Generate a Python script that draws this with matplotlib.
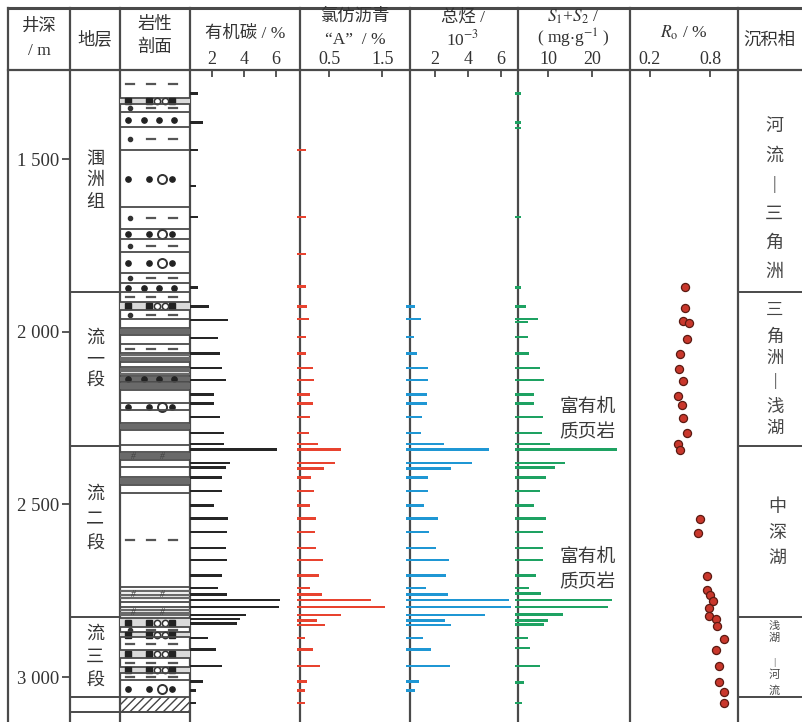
import matplotlib
matplotlib.use('Agg')
import matplotlib.pyplot as plt
import numpy as np

plt.rcParams['font.family'] = ['Liberation Serif', 'Noto Sans CJK SC']
plt.rcParams['mathtext.fontset'] = 'stix'

# ---------------- data ----------------
depth_ticks = [1500, 2000, 2500, 3000]
depth_labels = ['1 500', '2 000', '2 500', '3 000']

toc_depth = [1309, 1393, 1474, 1578, 1668, 1871, 1926, 1966, 2018, 2062, 2105, 2140, 2181, 2207,
             2247, 2293, 2325, 2340, 2380, 2392, 2421, 2461, 2502, 2540, 2580, 2626, 2661, 2705,
             2742, 2760, 2777, 2797, 2820, 2832, 2844, 2887, 2919, 2968, 3012, 3038, 3075]
toc_val = [1.1, 1.45, 1.1, 1.0, 1.1, 1.1, 1.8, 3.0, 2.4, 2.5, 2.6, 2.9, 2.1, 2.1,
           2.5, 2.75, 2.75, 6.05, 3.1, 2.9, 2.6, 2.6, 2.1, 3.0, 2.95, 2.9, 2.95, 2.6,
           2.4, 2.95, 6.25, 6.2, 4.1, 3.75, 3.55, 1.75, 2.25, 2.6, 1.45, 1.0, 1.0]

chl_depth = [1474, 1668, 1775, 1868, 1926, 1963, 2015, 2062, 2105, 2140, 2181, 2207, 2247, 2293,
             2325, 2340, 2380, 2395, 2421, 2461, 2502, 2540, 2580, 2626, 2661, 2705, 2742, 2760,
             2777, 2797, 2820, 2835, 2849, 2887, 2919, 2968, 3012, 3038, 3075]
chl_val = [0.05, 0.05, 0.05, 0.05, 0.07, 0.12, 0.05, 0.05, 0.18, 0.2, 0.14, 0.18, 0.14, 0.12,
           0.29, 0.71, 0.61, 0.39, 0.16, 0.2, 0.14, 0.25, 0.22, 0.25, 0.37, 0.31, 0.14, 0.35,
           1.28, 1.54, 0.71, 0.27, 0.42, 0.03, 0.18, 0.33, 0.07, 0.03, 0.03]

hc_depth = [1926, 1963, 2015, 2062, 2105, 2140, 2181, 2207, 2247, 2293, 2325, 2340, 2380, 2395,
            2421, 2461, 2502, 2540, 2580, 2626, 2661, 2705, 2742, 2760, 2777, 2797, 2820, 2835,
            2849, 2887, 2919, 2968, 3012, 3038]
hc_val = [0.8, 1.15, 0.73, 0.9, 1.58, 1.58, 1.52, 1.52, 1.21, 1.15, 2.55, 5.27, 4.24, 2.97,
          1.58, 1.58, 1.33, 2.18, 1.64, 2.06, 2.85, 2.67, 1.45, 2.79, 6.48, 6.6, 5.03, 2.61,
          2.97, 1.27, 1.76, 2.91, 1.03, 0.79]

s12_depth = [1309, 1393, 1410, 1668, 1871, 1926, 1963, 1972, 2015, 2062, 2105, 2140, 2181, 2207,
             2247, 2293, 2325, 2340, 2380, 2392, 2421, 2461, 2502, 2540, 2580, 2626, 2661, 2705,
             2742, 2757, 2777, 2797, 2818, 2835, 2847, 2887, 2916, 2968, 3015, 3075]
s12_val = [3.8, 3.8, 3.8, 3.8, 3.8, 5.0, 7.7, 5.5, 5.5, 5.7, 8.2, 9.1, 6.8, 6.8,
           8.9, 8.6, 10.5, 25.7, 13.9, 11.6, 9.5, 8.2, 6.8, 9.5, 8.9, 8.9, 8.9, 7.3,
           5.7, 8.4, 24.5, 23.6, 13.4, 10.0, 9.1, 5.5, 5.9, 8.2, 4.5, 4.1]

ro_depth = [1871, 1931, 1969, 1975, 2021, 2065, 2108, 2143, 2186, 2212, 2250, 2293, 2325, 2343,
            2542, 2583, 2708, 2748, 2763, 2780, 2800, 2823, 2832, 2852, 2890, 2922, 2968, 3015,
            3043, 3075]
ro_val = [0.55, 0.55, 0.53, 0.59, 0.57, 0.50, 0.49, 0.53, 0.48, 0.52, 0.53, 0.57, 0.48, 0.50,
          0.70, 0.68, 0.77, 0.77, 0.80, 0.83, 0.79, 0.79, 0.86, 0.87, 0.94, 0.86, 0.89, 0.89,
          0.94, 0.94]

formation_bounds = [1885, 2331, 2826, 3058, 3101]
formation_names = ['涠洲组', '流一段', '流二段', '流三段']
formation_char_depth = [[1500, 1563, 1626], [2018, 2081, 2144], [2471, 2543, 2615], [2877, 2944, 3012]]

facies_bounds = [1885, 2331, 2826, 3058]
facies_names = ['河流—三角洲', '三角洲—浅湖', '中深湖', '浅湖—河流']

lith_tops = [1242, 1323, 1341, 1364, 1407, 1474, 1639, 1703, 1732, 1769, 1830, 1859, 1885, 1914,
             1937, 1963, 1989, 2010, 2036, 2062, 2088, 2102, 2128, 2146, 2169, 2207, 2227, 2264,
             2285, 2328, 2348, 2372, 2392, 2421, 2444, 2467, 2739, 2783, 2797, 2829, 2855, 2870,
             2884, 2922, 2945, 2971, 2988, 3009, 3058, 3101, 3130]
lith_types = ['mud', 'cgl', 'siltmud', 'silt', 'siltmud', 'pebbly', 'siltmud', 'pebbly', 'siltmud',
              'pebbly', 'siltmud', 'silt', 'mud', 'cgl', 'siltmud', 'blank', 'shale', 'blank', 'mud',
              'shale', 'blank', 'shale', 'shaledot', 'shale', 'blank', 'pebbly', 'blank', 'shale',
              'blank', 'blank', 'oil', 'blank', 'blank', 'shale', 'blank', 'mud', 'oil', 'blank',
              'oil', 'cgl', 'siltmud', 'cgl', 'mud', 'cgl', 'mud', 'cgl', 'mud', 'pebbly', 'hatch',
              'blank']

# ---------------- layout ----------------
W, H = 803, 722
Y_HEAD, Y_TOP = 70, 8
D_TOP, D_BOT = 1242, 3130
LC = '#4a4a4a'
TC = '#333333'

fig = plt.figure(figsize=(W / 100, H / 100), dpi=100)
fig.patch.set_facecolor('white')

bg = fig.add_axes([0, 0, 1, 1])
bg.set_xlim(0, W)
bg.set_ylim(H, 0)
bg.axis('off')

col_x = [8, 70, 120, 190, 300, 410, 518, 630, 738]
bg.plot([8, W], [Y_TOP, Y_TOP], color=LC, lw=2.2)
bg.plot([8, W], [Y_HEAD, Y_HEAD], color=LC, lw=1.6)
for x in col_x:
    bg.plot([x, x], [Y_TOP, H], color=LC, lw=1.6)

hfs = 12.5
bg.text(39, 27, '井深', ha='center', va='center', fontsize=hfs, color=TC)
bg.text(39, 51, '/ m', ha='center', va='center', fontsize=hfs, color=TC)
bg.text(95, 40, '地层', ha='center', va='center', fontsize=hfs, color=TC)
bg.text(155, 25, '岩性', ha='center', va='center', fontsize=hfs, color=TC)
bg.text(155, 48, '剖面', ha='center', va='center', fontsize=hfs, color=TC)
bg.text(245, 34, '有机碳 / %', ha='center', va='center', fontsize=hfs, color=TC)
bg.text(355, 17, '氯仿沥青', ha='center', va='center', fontsize=hfs, color=TC)
bg.text(355, 40, '“A”  / %', ha='center', va='center', fontsize=hfs, color=TC)
bg.text(463, 17, '总烃 /', ha='center', va='center', fontsize=hfs, color=TC)
bg.text(463, 39, r'10$^{-3}$', ha='center', va='center', fontsize=hfs, color=TC)
bg.text(573, 17, r'$S_1$+$S_2$ /', ha='center', va='center', fontsize=hfs, color=TC)
bg.text(573, 38, r'( mg$\cdot$g$^{-1}$ )', ha='center', va='center', fontsize=hfs, color=TC)
bg.text(684, 33, r'$R_{\rm o}$ / %', ha='center', va='center', fontsize=hfs, color=TC)
bg.text(743, 40, '沉积相', ha='left', va='center', fontsize=hfs, color=TC)


def col_axes(x0, x1):
    ax = fig.add_axes([x0 / W, 0, (x1 - x0) / W, (H - Y_HEAD) / H])
    ax.set_facecolor('none')
    ax.set_ylim(D_BOT, D_TOP)
    for s in ax.spines.values():
        s.set_visible(False)
    ax.tick_params(axis='y', left=False, labelleft=False)
    return ax


def top_ticks(ax, ticks, labels):
    ax.set_xticks(ticks)
    ax.set_xticklabels(labels)
    ax.xaxis.tick_top()
    ax.tick_params(axis='x', direction='in', length=5, width=1.3, color=LC,
                   labelsize=13, labelcolor=TC, pad=1.5)


BH = 8  # bar thickness in metres


def bars(ax, d, v, left, color):
    cont = ax.barh(d, np.array(v) - left, left=left, height=BH, color=color, linewidth=0)
    for p in cont.patches:
        p.set_clip_on(False)


# stratigraphy / depth
ax_st = col_axes(70, 120)
ax_st.set_xlim(0, 50)
ax_st.set_xticks([])
ax_st.set_yticks(depth_ticks)
ax_st.set_yticklabels(depth_labels)
ax_st.tick_params(axis='y', left=True, labelleft=True, direction='out', length=6, width=1.3,
                  color=LC, labelsize=13.5, labelcolor=TC, pad=2)
for b in formation_bounds:
    ax_st.axhline(b, color=LC, lw=1.4)
for name, ds in zip(formation_names, formation_char_depth):
    for ch, dd in zip(name, ds):
        ax_st.text(25, dd, ch, ha='center', va='center', fontsize=13, color=TC)

# lithology
ax_li = col_axes(120, 190)
ax_li.set_xlim(0, 70)
ax_li.set_xticks([])
for i, t in enumerate(lith_types):
    top, bot = lith_tops[i], lith_tops[i + 1]
    mid = (top + bot) / 2
    ax_li.axhline(top, color=LC, lw=1.3)
    if t == 'mud':
        for x in [10, 31, 53]:
            ax_li.plot([x - 4, x + 4], [mid, mid], color='#555', lw=1.6)
    elif t == 'siltmud':
        ax_li.plot([10], [mid], 'o', ms=3, color='#333')
        for x in [31, 53]:
            ax_li.plot([x - 4, x + 4], [mid, mid], color='#555', lw=1.6)
    elif t == 'silt':
        ax_li.plot([8, 24, 39, 54], [mid] * 4, 'o', ms=3.8, color='#222')
    elif t == 'pebbly':
        ax_li.plot([8, 29, 52], [mid] * 3, 'o', ms=3.8, color='#222')
        ax_li.plot([42], [mid], 'o', ms=6.5, mfc='none', mec='#333', mew=1.4)
    elif t == 'cgl':
        ax_li.axhspan(top, bot, color='#dadada', lw=0)
        ax_li.plot([8, 29, 52], [mid] * 3, 's', ms=4, color='#222')
        ax_li.plot([37, 45], [mid] * 2, 'o', ms=4.5, mfc='white', mec='#333', mew=1.1)
    elif t in ('shale', 'shaledot'):
        for f in [0.25, 0.5, 0.75]:
            ax_li.axhline(top + f * (bot - top), color='#6a6a6a', lw=1.6)
        if t == 'shaledot':
            ax_li.plot([8, 24, 39, 54], [mid] * 4, 'o', ms=3.8, color='#222')
    elif t == 'oil':
        for f in [0.25, 0.5, 0.75]:
            ax_li.axhline(top + f * (bot - top), color='#6a6a6a', lw=1.6)
        for x in [13, 42]:
            ax_li.text(x, mid, '#', ha='center', va='center', fontsize=7, color='#444',
                       style='italic')
    elif t == 'hatch':
        ax_li.fill_between([1, 69], top, bot, facecolor='none', edgecolor='#444',
                           hatch='////', lw=0)
ax_li.axhline(lith_tops[-2], color=LC, lw=1.3)

# TOC
ax_toc = col_axes(190, 300)
ax_toc.set_xlim(0.625, 7.5)
top_ticks(ax_toc, [2, 4, 6], ['2', '4', '6'])
bars(ax_toc, toc_depth, toc_val, 0.625, '#262626')

# chloroform bitumen "A"
ax_chl = col_axes(300, 410)
ax_chl.set_xlim(-0.0566, 2.0189)
top_ticks(ax_chl, [0.5, 1.5], ['0.5', '1.5'])
bars(ax_chl, chl_depth, chl_val, -0.12, '#e8432f')

# total hydrocarbon
ax_hc = col_axes(410, 518)
ax_hc.set_xlim(0.485, 7.03)
top_ticks(ax_hc, [2, 4, 6], ['2', '4', '6'])
bars(ax_hc, hc_depth, hc_val, 0.243, '#1f97d4')

# S1+S2
ax_s = col_axes(518, 630)
ax_s.set_xlim(3.18, 28.64)
top_ticks(ax_s, [10, 20], ['10', '20'])
bars(ax_s, s12_depth, s12_val, 2.5, '#1ea262')
for dd, txt in [(2218, '富有机'), (2291, '质页岩'), (2652, '富有机'), (2727, '质页岩')]:
    ax_s.text(18.9, dd, txt, ha='center', va='center', fontsize=13.5, color='#3a3a3a')

# Ro
ax_ro = col_axes(630, 738)
ax_ro.set_xlim(0, 1.08)
top_ticks(ax_ro, [0.2, 0.8], ['0.2', '0.8'])
ax_ro.scatter(ro_val, ro_depth, s=34, facecolor='#c9372c', edgecolor='#5a1a12', lw=0.9, zorder=3)

# facies
ax_f = col_axes(738, 803)
ax_f.set_xlim(0, 65)
ax_f.set_xticks([])
for b in facies_bounds:
    ax_f.axhline(b, color=LC, lw=1.4)


def vtext(ax, x, ds, s, fs):
    for ch, dd in zip(s, ds):
        if ch == '—':
            ax.text(x, dd, '|', ha='center', va='center', fontsize=fs, color='#444')
        else:
            ax.text(x, dd, ch, ha='center', va='center', fontsize=fs, color='#444')


vtext(ax_f, 36, [1407, 1491, 1575, 1659, 1743, 1827], facies_names[0], 13)
vtext(ax_f, 37, [1940, 2017, 2078, 2142, 2220, 2281], facies_names[1], 12.5)
vtext(ax_f, 39, [2508, 2583, 2655], facies_names[2], 13)
vtext(ax_f, 36, [2852, 2887, 2959, 2994, 3038], facies_names[3], 8)

fig.savefig('out.png', dpi=100, facecolor='white')
